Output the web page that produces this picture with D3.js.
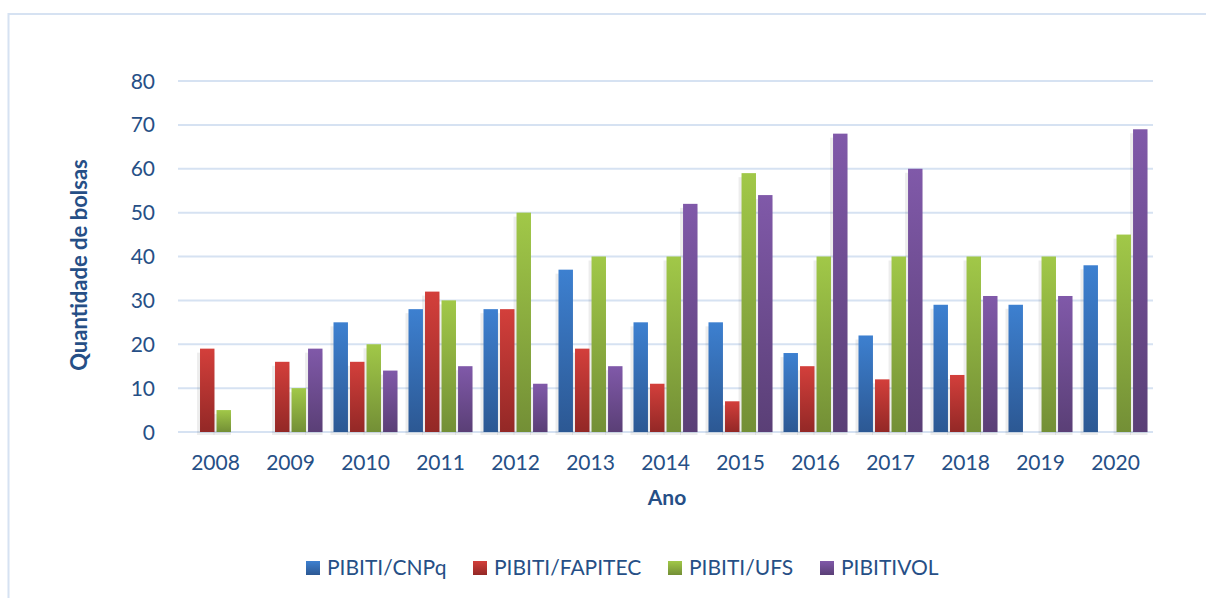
<!DOCTYPE html>
<html><head><meta charset="utf-8">
<script src="https://cdn.jsdelivr.net/npm/d3@7"></script>
<style>html,body{margin:0;padding:0;background:#fff;}</style>
</head><body>
<svg id="chart" width="1206" height="598"></svg>
<script>
const years = ["2008","2009","2010","2011","2012","2013","2014","2015","2016","2017","2018","2019","2020"];
const seriesNames = ["PIBITI/CNPq","PIBITI/FAPITEC","PIBITI/UFS","PIBITIVOL"];
const cnpq    = [0, 0, 25, 28, 28, 37, 25, 25, 18, 22, 29, 29, 38];
const fapitec = [19, 16, 16, 32, 28, 19, 11, 7, 15, 12, 13, 0, 0];
const ufs     = [5, 10, 20, 30, 50, 40, 40, 59, 40, 40, 40, 40, 45];
const vol     = [0, 19, 14, 15, 11, 15, 52, 54, 68, 60, 31, 31, 69];
const yTicks  = [0, 10, 20, 30, 40, 50, 60, 70, 80];
const seriesValues = [cnpq, fapitec, ufs, vol];
const colors = [
  {top:"#3d80d0", bot:"#2c5893"},
  {top:"#d33f3b", bot:"#932826"},
  {top:"#a1c848", bot:"#738f36"},
  {top:"#8059a9", bot:"#5a3f76"}
];

const svg = d3.select("#chart");
const font = "Lato, 'Open Sans', 'Liberation Sans', sans-serif";
const textColor = "#264f86";
const gridColor = "#d6e2f2";
const fs = 21;

svg.append("line").attr("x1",8.5).attr("x2",1206).attr("y1",14).attr("y2",14).attr("stroke",gridColor).attr("stroke-width",2);
svg.append("line").attr("x1",8.5).attr("x2",8.5).attr("y1",13).attr("y2",598).attr("stroke",gridColor).attr("stroke-width",2);

const pLeft = 178, pRight = 1153, pTop = 81, pBottom = 432;
const x = d3.scaleBand().domain(years).range([pLeft, pRight]).paddingInner(0).paddingOuter(0);
const y = d3.scaleLinear().domain([0, 80]).range([pBottom, pTop]);
const xs = d3.scaleBand().domain(seriesNames).range([0, 64]).paddingInner(0.125).paddingOuter(0);

const defs = svg.append("defs");
colors.forEach((c, i) => {
  const g = defs.append("linearGradient").attr("id","g"+i).attr("x1",0).attr("x2",0).attr("y1",0).attr("y2",1);
  g.append("stop").attr("offset","0%").attr("stop-color",c.top);
  g.append("stop").attr("offset","100%").attr("stop-color",c.bot);
});

svg.append("g").selectAll("line").data(yTicks).join("line")
  .attr("x1", pLeft).attr("x2", pRight)
  .attr("y1", d => y(d)).attr("y2", d => y(d))
  .attr("stroke", gridColor).attr("stroke-width", 2);

svg.append("g").selectAll("text").data(yTicks).join("text")
  .attr("x", 155).attr("y", d => y(d) + 7.5)
  .attr("text-anchor","end")
  .attr("font-family", font).attr("font-size", fs).attr("fill", textColor)
  .text(d => d);

const groups = svg.append("g").selectAll("g").data(years).join("g")
  .attr("transform", d => `translate(${x(d) + (x.bandwidth() - 64) / 2},0)`);

groups.each(function(yr, yi) {
  const g = d3.select(this);
  const data = seriesNames.map((s, si) => ({s, si, v: seriesValues[si][yi]})).filter(d => d.v > 0);
  g.selectAll("rect.sh").data(data).join("rect").attr("class","sh")
    .attr("x", d => xs(d.s) - 3).attr("y", d => y(d.v) + 4)
    .attr("width", xs.bandwidth() + 3).attr("height", d => pBottom - y(d.v) - 1)
    .attr("fill", "#000").attr("opacity", 0.07);
  g.selectAll("rect.bar").data(data).join("rect").attr("class","bar")
    .attr("x", d => xs(d.s)).attr("y", d => y(d.v))
    .attr("width", xs.bandwidth()).attr("height", d => pBottom - y(d.v))
    .attr("fill", d => `url(#g${d.si})`);
});

svg.append("g").selectAll("text").data(years).join("text")
  .attr("x", d => x(d) + x.bandwidth() / 2).attr("y", 470)
  .attr("text-anchor","middle")
  .attr("font-family", font).attr("font-size", fs).attr("fill", textColor)
  .text(d => d);

svg.append("text").attr("x", 667).attr("y", 505).attr("text-anchor","middle")
  .attr("font-family", font).attr("font-size", fs).attr("font-weight","bold").attr("fill", textColor)
  .text("Ano");
svg.append("text").attr("transform","translate(87,265) rotate(-90)").attr("text-anchor","middle")
  .attr("font-family", font).attr("font-size", 22).attr("font-weight","bold").attr("fill", textColor)
  .text("Quantidade de bolsas");

const legendX = [306, 473, 668, 820];
const lg = svg.append("g").selectAll("g").data(seriesNames).join("g")
  .attr("transform", (d, i) => `translate(${legendX[i]},0)`);
lg.append("rect").attr("x",0).attr("y",561).attr("width",14).attr("height",14)
  .attr("fill", (d, i) => `url(#g${i})`);
lg.append("text").attr("x",21).attr("y",575)
  .attr("font-family", font).attr("font-size", fs).attr("fill", textColor)
  .text(d => d);
</script>
</body></html>
